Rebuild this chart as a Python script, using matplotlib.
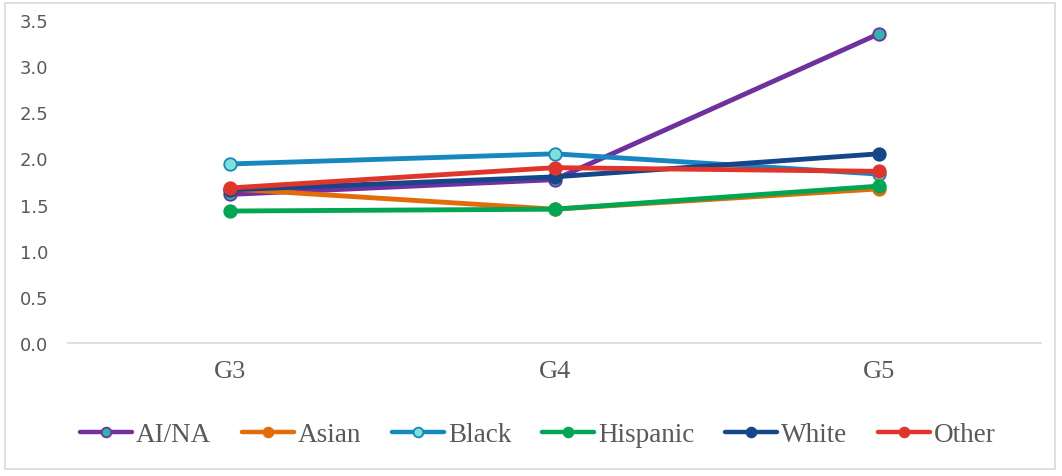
import matplotlib

matplotlib.use("Agg")
import matplotlib.pyplot as plt
from matplotlib.patches import Rectangle

grades = ["G3", "G4", "G5"]
groups = ["AI/NA", "Asian", "Black", "Hispanic", "White", "Other"]
ai_na = [1.61, 1.77, 3.35]
asian = [1.67, 1.45, 1.67]
black = [1.94, 2.05, 1.83]
hispanic = [1.43, 1.45, 1.70]
white = [1.66, 1.80, 2.05]
other = [1.68, 1.90, 1.86]
yticks = [0.0, 0.5, 1.0, 1.5, 2.0, 2.5, 3.0, 3.5]

SERIES = [
    (ai_na, "#7030a0", "#2bb8a8"),
    (asian, "#e36c0a", "#e36c0a"),
    (black, "#1787c0", "#7fe0d8"),
    (hispanic, "#00a651", "#00a651"),
    (white, "#16468a", "#16468a"),
    (other, "#e0352a", "#e0352a"),
]
SERIF = ["Liberation Serif", "DejaVu Serif"]
TEXT = "#595959"

fig = plt.figure(figsize=(10.62, 4.77), dpi=100)
ax = fig.add_axes([68 / 1062, 1 - 344 / 477, (1041 - 68) / 1062, (344 - 21) / 477])

x = range(len(grades))
for (vals, line_c, face_c), name in zip(SERIES, groups):
    ax.plot(x, vals, color=line_c, linewidth=3.5, marker="o", markersize=9,
            markerfacecolor=face_c, markeredgecolor=line_c, markeredgewidth=1.3,
            label=name, solid_capstyle="round")

ax.set_xlim(-0.5, 2.5)
ax.set_ylim(0, 3.5)
ax.set_yticks(yticks)
ax.set_yticklabels([f"{v:.1f}" for v in yticks], fontsize=13, color=TEXT)
ax.set_xticks(list(x))
ax.set_xticklabels(grades, fontsize=19, color=TEXT, family=SERIF)
ax.tick_params(axis="y", length=0, pad=14)
ax.tick_params(axis="x", length=0, pad=12)
for side in ["top", "right", "left"]:
    ax.spines[side].set_visible(False)
ax.spines["bottom"].set_color("#d9d9d9")
ax.spines["bottom"].set_linewidth(1.2)

leg = fig.legend(loc="center", bbox_to_anchor=(538 / 1062, 1 - 436 / 477), ncol=6,
                 frameon=False, handlelength=1.9, handletextpad=0.15, columnspacing=1.15,
                 prop={"family": SERIF, "size": 19.5})
for t in leg.get_texts():
    t.set_color(TEXT)
for h in leg.legend_handles:
    h.set_markersize(7)
    h.set_linewidth(3.2)

fig.patches.append(Rectangle((5 / 1062, 7 / 477), 1050 / 1062, 466 / 477, transform=fig.transFigure,
                             fill=False, edgecolor="#d9d9d9", linewidth=1.2))

fig.savefig("out.png", dpi=100, facecolor="white")
